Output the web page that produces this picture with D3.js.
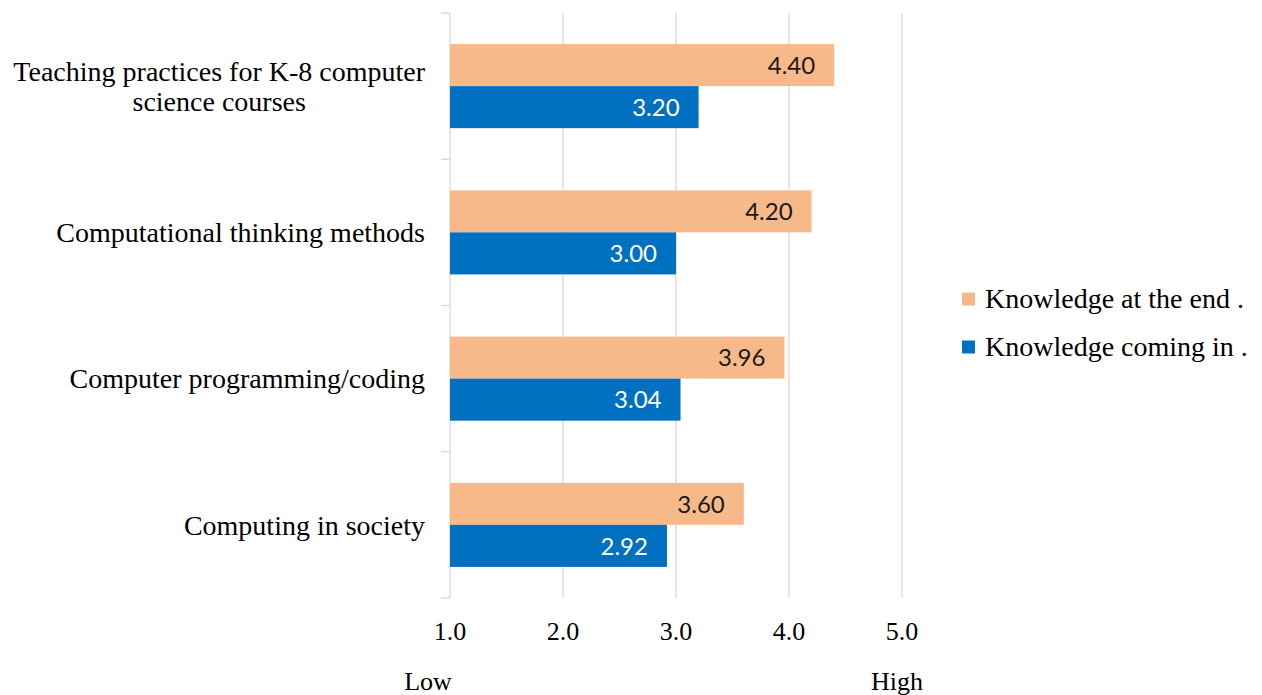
<!DOCTYPE html>
<html><head><meta charset="utf-8">
<script src="https://cdn.jsdelivr.net/npm/d3@7"></script>
<style>body{margin:0;background:#fff}svg{display:block}</style>
</head><body>
<svg id="c" width="1262" height="695"></svg>
<script>
const categories = [
  ["Teaching practices for K-8 computer", "science courses"],
  ["Computational thinking methods"],
  ["Computer programming/coding"],
  ["Computing in society"]
];
const seriesNames = ["Knowledge at the end .", "Knowledge coming in ."];
const endValues = [4.40, 4.20, 3.96, 3.60];
const inValues = [3.20, 3.00, 3.04, 2.92];
const tickValues = [1, 2, 3, 4, 5];
const colors = ["#F8B98A", "#0070C0"];

(function(){
const svg = d3.select("#c");
const serif = "'Liberation Serif', 'Times New Roman', serif";
const pLeft = 450, pRight = 902, pTop = 13, pBottom = 598;
const x = d3.scaleLinear().domain([1, 5]).range([pLeft, pRight]);
const y = d3.scaleBand().domain(d3.range(categories.length)).range([pTop, pBottom]).paddingInner(0).paddingOuter(0);
const inner = d3.scaleBand().domain([0, 1]).range([0, y.bandwidth()]).paddingOuter(0.74).paddingInner(0);

svg.append("g").selectAll("line").data(tickValues.slice(1)).join("line")
  .attr("x1", d => x(d)).attr("x2", d => x(d)).attr("y1", pTop).attr("y2", pBottom)
  .attr("stroke", "#d9d9d9").attr("stroke-width", 1.3);

svg.append("line").attr("x1", pLeft).attr("x2", pLeft).attr("y1", pTop).attr("y2", pBottom)
  .attr("stroke", "#d9d9d9").attr("stroke-width", 1.3);
svg.append("g").selectAll("line").data(d3.range(categories.length + 1)).join("line")
  .attr("x1", pLeft - 9).attr("x2", pLeft)
  .attr("y1", d => pTop + d * y.step()).attr("y2", d => pTop + d * y.step())
  .attr("stroke", "#d9d9d9").attr("stroke-width", 1.3);

const data = categories.map((c, i) => ({i, vals: [endValues[i], inValues[i]]}));
const rows = svg.append("g").selectAll("g").data(data).join("g")
  .attr("transform", d => `translate(0,${y(d.i)})`);

rows.selectAll("rect").data(d => d.vals.map((v, k) => ({v, k}))).join("rect")
  .attr("x", x(1)).attr("y", d => inner(d.k)).attr("width", d => x(d.v) - x(1))
  .attr("height", inner.bandwidth()).attr("fill", d => colors[d.k]);

rows.selectAll("text.val").data(d => d.vals.map((v, k) => ({v, k}))).join("text")
  .attr("class", "val")
  .attr("x", d => x(d.v) - 19).attr("y", d => inner(d.k) + inner.bandwidth() / 2)
  .attr("dy", "0.36em").attr("text-anchor", "end")
  .attr("font-family", "Lato, 'Open Sans', sans-serif").attr("font-size", 24)
  .attr("fill", d => d.k === 0 ? "#1a1a1a" : "#ffffff")
  .text(d => d.v.toFixed(2));

const labelRight = 425, lh = 30;
categories.forEach((lines, i) => {
  const cy = y(i) + y.bandwidth() / 2;
  const g = svg.append("g");
  const texts = lines.map((t, j) => g.append("text")
      .attr("y", cy + (j - (lines.length - 1) / 2) * lh).attr("dy", "0.35em")
      .attr("font-family", serif).attr("font-size", 28)
      .attr("fill", "#000").text(t));
  const maxW = d3.max(texts, t => t.node().getComputedTextLength());
  texts.forEach(t => t.attr("x", labelRight - maxW / 2).attr("text-anchor", "middle"));
});

svg.append("g").selectAll("text").data(tickValues).join("text")
  .attr("x", d => x(d)).attr("y", 640).attr("text-anchor", "middle")
  .attr("font-family", serif).attr("font-size", 26)
  .attr("fill", "#000").text(d => d.toFixed(1));

svg.append("text").attr("x", 428).attr("y", 690).attr("text-anchor", "middle")
  .attr("font-family", serif).attr("font-size", 26).text("Low");
svg.append("text").attr("x", 897).attr("y", 690).attr("text-anchor", "middle")
  .attr("font-family", serif).attr("font-size", 26).text("High");

const lg = svg.append("g").selectAll("g").data(seriesNames).join("g")
  .attr("transform", (d, i) => `translate(962,${299 + i * 48})`);
lg.append("rect").attr("x", 0).attr("y", -6.5).attr("width", 13).attr("height", 13)
  .attr("fill", (d, i) => colors[i]);
lg.append("text").attr("x", 23).attr("y", 0).attr("dy", "0.33em")
  .attr("font-family", serif).attr("font-size", 28).text(d => d);
})();
</script>
</body></html>
